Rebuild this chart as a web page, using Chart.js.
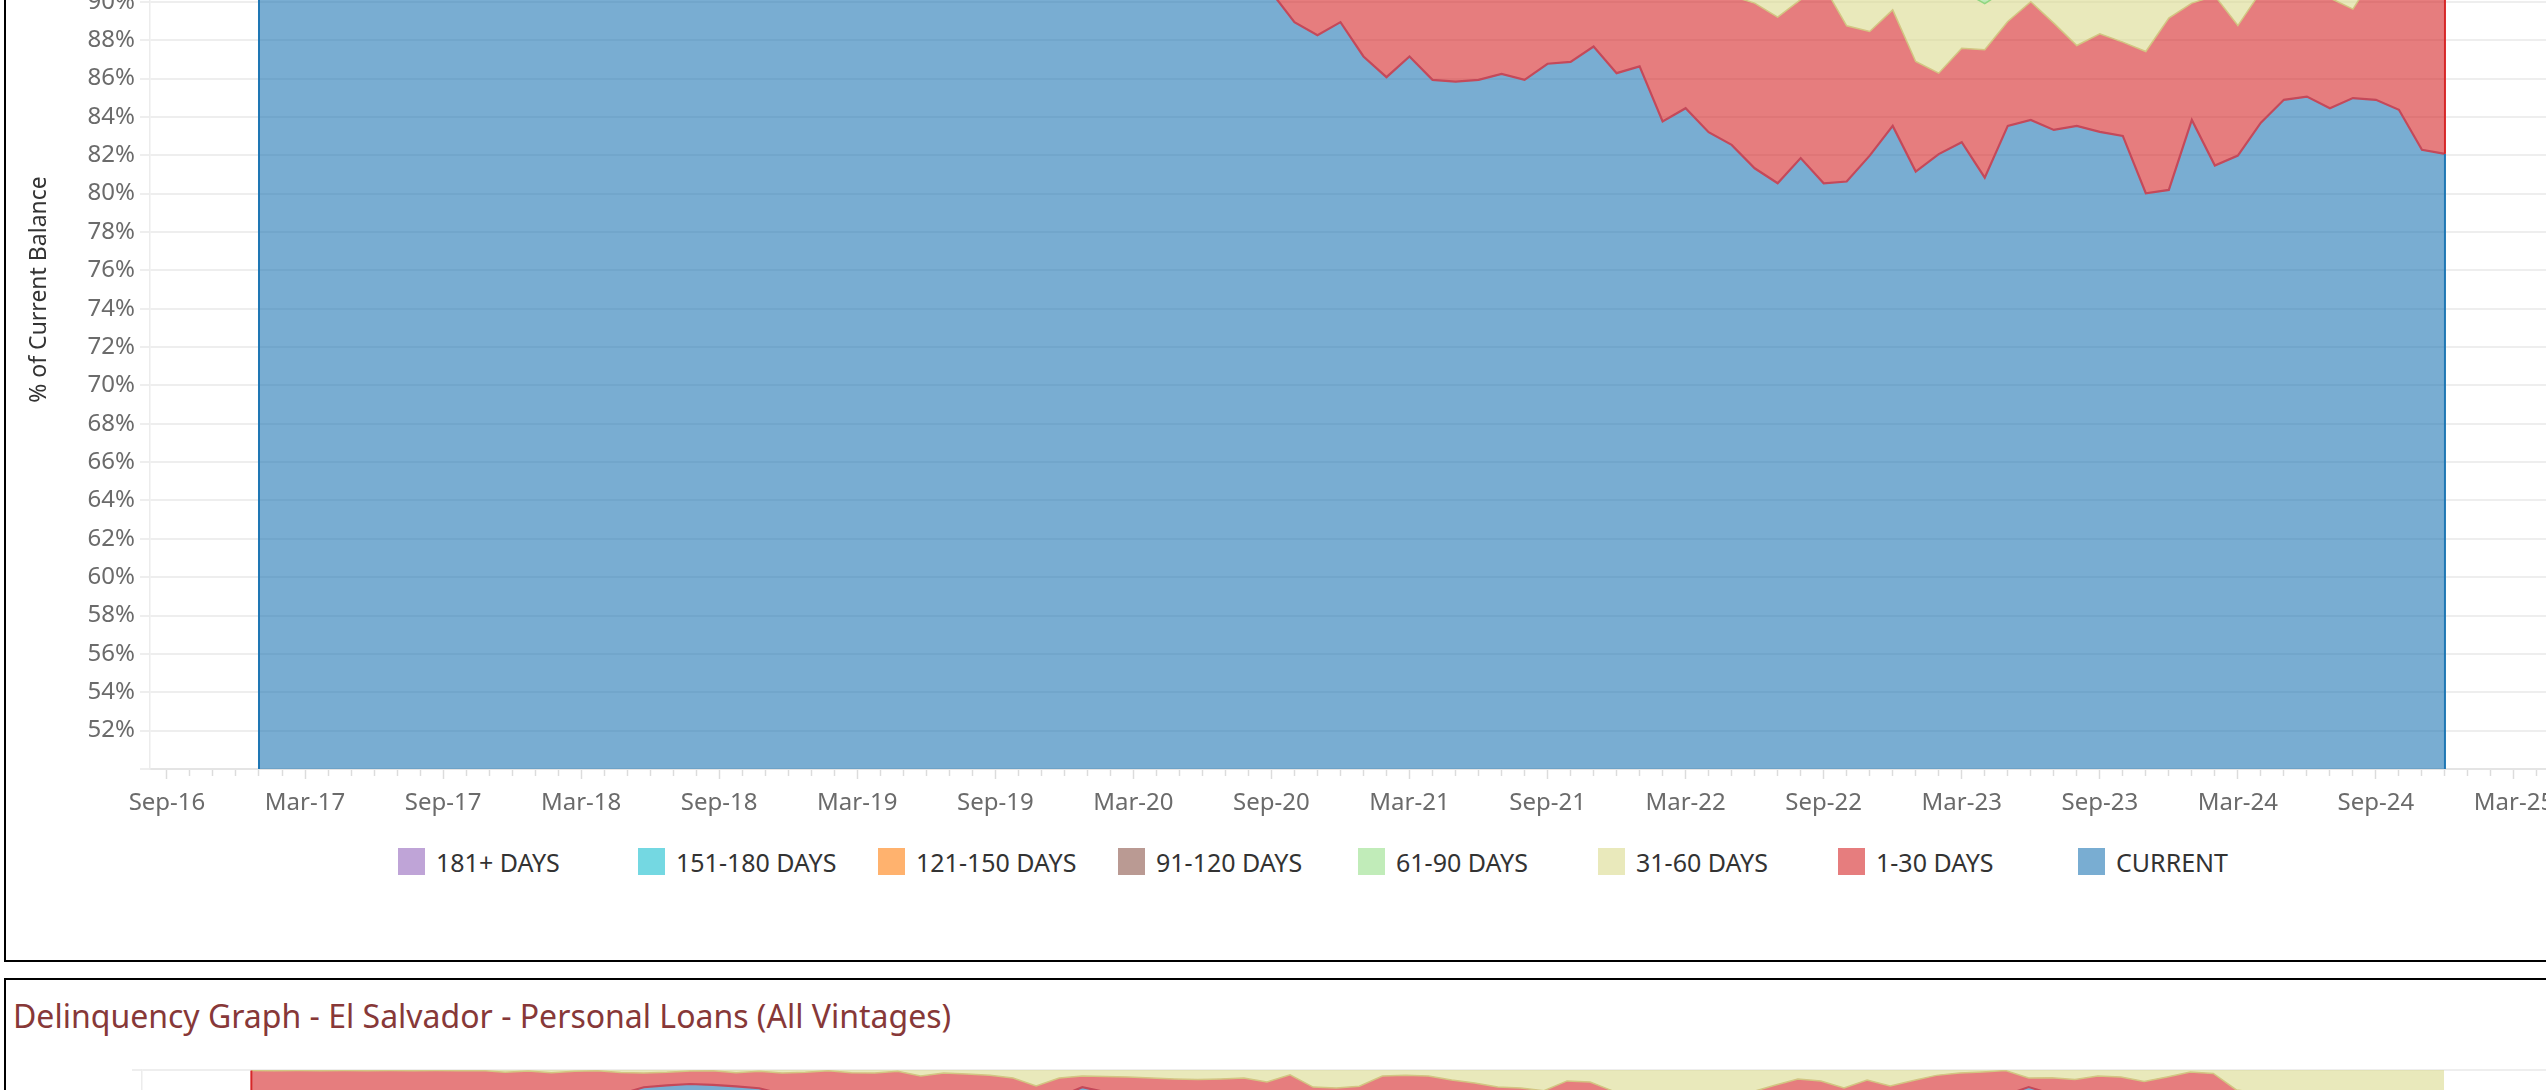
<!DOCTYPE html>
<html>
<head>
<meta charset="utf-8">
<title>Delinquency Graph</title>
<script src="https://cdn.jsdelivr.net/npm/chart.js@4.4.1/dist/chart.umd.min.js"></script>
<style>
    html, body {
        margin: 0;
        padding: 0;
        width: 2546px;
        height: 1090px;
        overflow: hidden;
        background: #fff;
        font-family: 'Noto Sans', sans-serif;
    }
    .panel {
        position: absolute;
        box-sizing: border-box;
        border: 2px solid #000;
    }
    #panelTop { left: 4px; top: -300px; width: 3000px; height: 1262px; }
    #panelBottom { left: 4px; top: 978px; width: 3000px; height: 400px; }
    canvas { position: absolute; left: 0; }
    #chartTop { top: -210px; }
    #chartBottom { top: 1050px; }
    #legend {
        position: absolute;
        left: 398px;
        top: 848px;
        display: flex;
    }
    .legend-item { width: 240px; height: 27px; display: flex; align-items: center; }
    .legend-swatch { width: 27px; height: 27px; margin-right: 11px; flex: none; }
    .legend-text { font-size: 25px; color: #333; white-space: nowrap; }
    #title2 {
        position: absolute;
        left: 13px;
        top: 1000px;
        font-size: 32px;
        line-height: 32px;
        color: #873838;
        white-space: nowrap;
    }
</style>
</head>
<body>
<div class="panel" id="panelTop"></div>
<div class="panel" id="panelBottom"></div>
<canvas id="chartTop" width="2693" height="1040"></canvas>
<div id="legend"></div>
<div id="title2">Delinquency Graph - El Salvador - Personal Loans (All Vintages)</div>
<canvas id="chartBottom" width="2693" height="1040"></canvas>

<script>
// months Jan-17 .. Dec-24 (one point per month)
const months = [];
for (let y = 2017; y <= 2024; y++) {
    for (let m = 1; m <= 12; m++) months.push(y + '-' + String(m).padStart(2, '0'));
}

const tickLabels = ['Sep-16', 'Mar-17', 'Sep-17', 'Mar-18', 'Sep-18', 'Mar-19', 'Sep-19', 'Mar-20',
    'Sep-20', 'Mar-21', 'Sep-21', 'Mar-22', 'Sep-22', 'Mar-23', 'Sep-23', 'Mar-24', 'Sep-24', 'Mar-25'];

const yTicksPct = { min: 50, max: 100, step: 2 };

const seriesNames = ['CURRENT', '1-30 DAYS', '31-60 DAYS', '61-90 DAYS', '91-120 DAYS',
    '121-150 DAYS', '151-180 DAYS', '181+ DAYS'];

// top chart: share of balance by bucket (%)
const current = [
    95.8, 95.4, 95.1, 95.6, 95.2, 94.9, 95.3, 94.8, 94.6, 95.0, 94.7, 95.1,
    94.6, 94.3, 94.8, 94.5, 94.1, 94.4, 94.0, 93.8, 94.2, 93.9, 94.3, 94.6,
    94.1, 93.7, 94.0, 93.6, 93.9, 93.4, 93.8, 93.5, 93.2, 93.6, 93.9, 94.2,
    93.7, 93.3, 93.9, 94.5, 95.1, 94.2, 92.8, 91.6, 90.5, 88.94, 88.26, 88.94,
    87.15, 86.07, 87.15, 85.93, 85.84, 85.93, 86.24, 85.93, 86.77, 86.87, 87.67, 86.28,
    86.63, 83.76, 84.45, 83.20, 82.54, 81.32, 80.54, 81.85, 80.54, 80.63, 81.98, 83.53,
    81.15, 82.06, 82.68, 80.83, 83.53, 83.84, 83.32, 83.53, 83.22, 83.01, 80.02, 80.19,
    83.84, 81.46, 81.98, 83.70, 84.89, 85.06, 84.45, 84.98, 84.89, 84.37, 82.28, 82.07
];
const days1to30 = [
    2.1, 2.4, 2.6, 2.2, 2.5, 2.8, 2.4, 2.9, 3.0, 2.7, 2.9, 2.6,
    2.9, 3.1, 2.7, 3.0, 3.3, 3.0, 3.4, 3.5, 3.1, 3.4, 3.0, 2.8,
    3.2, 3.5, 3.3, 3.6, 3.3, 3.7, 3.4, 3.6, 3.9, 3.5, 3.3, 3.0,
    3.4, 3.7, 3.2, 2.9, 2.6, 3.3, 4.4, 5.2, 2.3, 3.46, 3.84, 3.36,
    4.65, 5.43, 4.55, 5.37, 5.26, 5.47, 4.96, 4.97, 4.53, 4.13, 3.73, 4.52,
    4.47, 6.84, 6.45, 7.30, 7.76, 8.61, 8.66, 8.26, 10.29, 8.12, 6.47, 6.05,
    5.74, 4.22, 4.90, 6.67, 5.44, 6.16, 5.57, 4.19, 5.11, 4.89, 7.39, 8.96,
    6.09, 8.85, 6.78, 6.83, 6.31, 5.84, 5.75, 4.64, 6.61, 7.43, 9.12, 9.03
];
const days31to60 = [
    0.8, 0.9, 1.0, 0.9, 1.0, 1.1, 1.0, 1.2, 1.1, 1.0, 1.1, 1.0,
    1.1, 1.2, 1.0, 1.1, 1.2, 1.1, 1.3, 1.2, 1.1, 1.2, 1.1, 1.0,
    1.1, 1.2, 1.1, 1.3, 1.2, 1.3, 1.2, 1.3, 1.4, 1.2, 1.1, 1.0,
    1.2, 1.3, 1.1, 1.0, 0.9, 1.1, 1.3, 1.5, 1.6, 1.8, 1.7, 1.9,
    2.0, 1.8, 1.9, 2.1, 2.0, 1.8, 2.0, 2.2, 1.9, 2.1, 1.8, 2.2,
    2.0, 2.3, 2.1, 2.4, 2.5, 2.6, 2.8, 2.4, 2.2, 2.9, 3.1, 2.6,
    4.0, 4.3, 3.0, 2.4, 1.7, 1.5, 2.0, 2.9, 2.5, 2.8, 3.1, 2.0,
    1.7, 1.6, 2.3, 1.6, 1.4, 1.5, 1.7, 1.9, 1.4, 1.3, 1.5, 1.6
];
const days61to90 = [
    0.42, 0.40, 0.41, 0.39, 0.43, 0.38, 0.41, 0.36, 0.42, 0.40, 0.43, 0.41,
    0.44, 0.45, 0.47, 0.44, 0.45, 0.48, 0.42, 0.47, 0.50, 0.48, 0.51, 0.50,
    0.50, 0.51, 0.49, 0.47, 0.50, 0.51, 0.50, 0.49, 0.47, 0.53, 0.54, 0.56,
    0.53, 0.54, 0.57, 0.51, 0.44, 0.45, 0.48, 0.54, 1.4, 1.5, 1.6, 1.5,
    1.6, 1.7, 1.6, 1.7, 1.8, 1.7, 1.7, 1.8, 1.7, 1.8, 1.7, 1.8,
    1.7, 1.8, 1.8, 1.8, 1.9, 1.9, 2.0, 1.9, 1.8, 2.1, 2.1, 2.0,
    2.3, 2.4, 2.4, 2.6, 2.4, 2.2, 2.3, 2.4, 2.3, 2.4, 2.4, 2.5,
    2.2, 2.1, 2.0, 2.2, 2.0, 1.9, 1.9, 2.0, 2.1, 1.8, 1.7, 1.8
];
const days91to120 = [
    0.30, 0.29, 0.30, 0.31, 0.29, 0.28, 0.30, 0.25, 0.30, 0.31, 0.29, 0.30,
    0.32, 0.33, 0.34, 0.32, 0.33, 0.35, 0.30, 0.34, 0.37, 0.35, 0.36, 0.37,
    0.37, 0.36, 0.37, 0.35, 0.36, 0.37, 0.38, 0.36, 0.35, 0.39, 0.40, 0.41,
    0.39, 0.40, 0.42, 0.37, 0.33, 0.32, 0.35, 0.39, 1.0, 1.0, 1.1, 1.0,
    1.1, 1.2, 1.1, 1.2, 1.2, 1.2, 1.2, 1.2, 1.2, 1.2, 1.2, 1.3,
    1.2, 1.3, 1.3, 1.3, 1.3, 1.4, 1.5, 1.4, 1.3, 1.5, 1.5, 1.4,
    1.7, 1.7, 1.7, 1.8, 1.7, 1.5, 1.7, 1.7, 1.7, 1.7, 1.7, 1.6,
    1.5, 1.4, 1.6, 1.4, 1.3, 1.4, 1.5, 1.5, 1.3, 1.2, 1.3, 1.3
];
const days121to150 = [
    0.21, 0.22, 0.20, 0.21, 0.22, 0.19, 0.21, 0.18, 0.21, 0.20, 0.22, 0.21,
    0.22, 0.23, 0.24, 0.22, 0.23, 0.24, 0.21, 0.24, 0.26, 0.24, 0.26, 0.25,
    0.26, 0.25, 0.26, 0.24, 0.25, 0.26, 0.26, 0.25, 0.24, 0.27, 0.28, 0.29,
    0.27, 0.28, 0.29, 0.26, 0.23, 0.22, 0.24, 0.27, 0.8, 0.9, 0.9, 0.9,
    0.9, 1.0, 1.0, 1.0, 1.0, 1.0, 1.0, 1.0, 1.0, 1.0, 1.0, 1.1,
    1.0, 1.1, 1.1, 1.1, 1.1, 1.1, 1.2, 1.1, 1.0, 1.2, 1.3, 1.2,
    1.4, 1.4, 1.4, 1.5, 1.4, 1.3, 1.4, 1.4, 1.4, 1.4, 1.4, 1.3,
    1.3, 1.2, 1.3, 1.2, 1.1, 1.1, 1.2, 1.3, 1.1, 1.0, 1.1, 1.1
];
const days151to180 = [
    0.17, 0.16, 0.18, 0.17, 0.16, 0.16, 0.17, 0.14, 0.17, 0.16, 0.17, 0.17,
    0.18, 0.18, 0.20, 0.18, 0.18, 0.20, 0.17, 0.19, 0.21, 0.20, 0.21, 0.21,
    0.21, 0.20, 0.21, 0.19, 0.21, 0.20, 0.21, 0.21, 0.19, 0.22, 0.22, 0.23,
    0.22, 0.22, 0.23, 0.21, 0.18, 0.18, 0.20, 0.22, 0.8, 0.8, 0.9, 0.8,
    0.9, 0.9, 0.9, 0.9, 1.0, 1.0, 1.0, 1.0, 1.0, 1.0, 1.0, 1.0,
    1.0, 1.0, 1.0, 1.0, 1.0, 1.1, 1.1, 1.1, 1.0, 1.1, 1.2, 1.1,
    1.3, 1.3, 1.3, 1.4, 1.3, 1.2, 1.3, 1.3, 1.3, 1.4, 1.3, 1.2,
    1.2, 1.1, 1.2, 1.1, 1.0, 1.1, 1.1, 1.2, 1.0, 1.0, 1.0, 1.0
];
const days181plus = [
    0.20, 0.23, 0.21, 0.22, 0.20, 0.19, 0.21, 0.17, 0.20, 0.23, 0.19, 0.21,
    0.24, 0.21, 0.25, 0.24, 0.21, 0.23, 0.20, 0.26, 0.26, 0.23, 0.26, 0.27,
    0.26, 0.28, 0.27, 0.25, 0.28, 0.26, 0.25, 0.29, 0.25, 0.29, 0.26, 0.31,
    0.29, 0.26, 0.29, 0.25, 0.22, 0.23, 0.23, 0.28, 1.6, 1.6, 1.7, 1.6,
    1.7, 1.9, 1.8, 1.8, 1.9, 1.9, 1.9, 1.9, 1.9, 1.9, 1.9, 1.8,
    2.0, 1.9, 1.8, 1.9, 1.9, 1.97, 2.2, 1.99, 1.87, 2.45, 2.35, 2.12,
    2.41, 2.62, 2.62, 2.8, 2.53, 2.3, 2.41, 2.58, 2.47, 2.4, 2.69, 2.25,
    2.17, 2.29, 2.84, 1.97, 2.0, 2.1, 2.4, 2.48, 1.6, 1.9, 2.0, 2.1
];

// bottom chart (El Salvador): stacked boundary levels (%)
const esCurrentLevel = [
    98.4, 98.2, 98.5, 98.3, 98.1, 98.4, 98.6, 98.3, 98.2, 98.5, 98.7, 98.4,
    98.3, 98.6, 98.5, 98.6, 98.75, 99.1, 99.2, 99.27, 99.22, 99.15, 99.05, 98.75,
    98.5, 98.3, 98.6, 98.4, 98.2, 98.5, 98.6, 98.3, 98.4, 98.1, 97.9, 98.6,
    99.1, 98.85, 98.5, 98.3, 98.4, 98.2, 98.0, 98.3, 98.1, 98.4, 97.9, 97.8,
    98.0, 98.5, 98.4, 98.6, 98.3, 98.1, 97.9, 97.8, 97.7, 98.2, 98.1, 97.6,
    97.5, 97.4, 97.6, 97.3, 97.5, 97.6, 98.0, 98.5, 98.3, 97.9, 98.4, 98.1,
    98.3, 98.6, 98.7, 98.8, 98.7, 99.11, 98.75, 98.6, 98.7, 98.5, 98.3, 98.4,
    98.6, 98.5, 98.2, 98.0, 97.9, 98.0, 97.8, 97.9, 97.8, 97.9, 97.7, 97.8
];
const esUpTo30Level = [
    99.97, 99.96, 99.97, 99.96, 99.97, 99.96, 99.97, 99.96, 99.97, 99.96, 99.97, 99.88,
    99.95, 99.86, 99.94, 99.96, 99.87, 99.84, 99.88, 99.95, 99.96, 99.86, 99.94, 99.85,
    99.88, 99.96, 99.86, 99.84, 99.93, 99.69, 99.84, 99.79, 99.72, 99.58, 99.17, 99.58,
    99.69, 99.66, 99.64, 99.58, 99.53, 99.50, 99.53, 99.58, 99.37, 99.75, 99.11, 99.06,
    99.15, 99.69, 99.72, 99.69, 99.48, 99.32, 99.11, 99.06, 98.92, 99.43, 99.37, 98.90,
    98.80, 98.75, 98.82, 98.70, 98.78, 98.85, 99.20, 99.53, 99.43, 99.06, 99.48, 99.17,
    99.45, 99.72, 99.84, 99.90, 99.97, 99.58, 99.60, 99.50, 99.69, 99.64, 99.40, 99.64,
    99.90, 99.82, 98.96, 98.80, 98.70, 98.75, 98.60, 98.72, 98.65, 98.70, 98.60, 98.68
];

const topSeries = [current, days1to30, days31to60, days61to90, days91to120,
    days121to150, days151to180, days181plus];

// Tableau 10 / 20 colours, drawn at 60% opacity
const baseColors = ['#1F77B4', '#D62728', '#DBDB8D', '#98DF8A', '#8C564B', '#FF7F0E', '#17BECF', '#9467BD'];
const edgeColors = ['#C4495A', '#D2C682', '#8FD67F', '#B89A92', '#FFB26E', '#74D8E2', '#BFA4D7', '#BFA4D7'];

function fade(hex, a) {
    const n = parseInt(hex.slice(1), 16);
    return `rgba(${n >> 16},${(n >> 8) & 255},${n & 255},${a})`;
}

const monthNames = ['Jan', 'Feb', 'Mar', 'Apr', 'May', 'Jun', 'Jul', 'Aug', 'Sep', 'Oct', 'Nov', 'Dec'];
function monthIndex(label) {
    const [mon, yy] = label.split('-');
    return (2000 + Number(yy) - 2017) * 12 + monthNames.indexOf(mon);
}
const labelAt = {};
tickLabels.forEach(l => { labelAt[monthIndex(l)] = l; });

const xRange = { min: -4.737, max: 105.78 };

Chart.defaults.font.family = "'Noto Sans', sans-serif";
Chart.defaults.animation = false;

function points(values) {
    return values.map((v, i) => ({ x: i, y: v }));
}

// Tableau draws the left/right ends of each area with a solid edge
const bordesExtremos = {
    id: 'bordesExtremos',
    afterDatasetsDraw(chart) {
        const { ctx, chartArea } = chart;
        ctx.save();
        ctx.beginPath();
        ctx.rect(chartArea.left, chartArea.top, chartArea.width, chartArea.height);
        ctx.clip();
        ctx.lineWidth = 2;
        chart.data.datasets.forEach((ds, i) => {
            if (!ds.edgeColor) return;
            const pts = chart.getDatasetMeta(i).data;
            const prev = i > 0 && chart.data.datasets[i - 1].edgeColor ? chart.getDatasetMeta(i - 1).data : null;
            [0, pts.length - 1].forEach(k => {
                const yLow = prev ? prev[k].y : chartArea.bottom;
                ctx.strokeStyle = ds.edgeColor;
                ctx.beginPath();
                ctx.moveTo(pts[k].x, yLow);
                ctx.lineTo(pts[k].x, pts[k].y);
                ctx.stroke();
            });
        });
        ctx.restore();
    }
};

function crearEjeX() {
    return {
        type: 'linear',
        min: xRange.min,
        max: xRange.max,
        afterBuildTicks: axis => {
            const t = [];
            for (let m = Math.ceil(xRange.min); m <= Math.floor(xRange.max); m++) t.push({ value: m });
            axis.ticks = t;
        },
        afterFit: axis => { axis.height = 61; },
        ticks: {
            autoSkip: false,
            maxRotation: 0,
            padding: 10,
            color: '#6b6b6b',
            font: { size: 24 },
            callback: v => labelAt[v] || ''
        },
        grid: {
            drawOnChartArea: false,
            tickLength: 10,
            tickWidth: 1.5,
            tickColor: '#dcdcdc',
            tickBorderDash: ctx => (ctx.tick && labelAt[ctx.tick.value]) ? [] : [6, 40]
        },
        border: { display: true, color: '#e4e4e4', width: 2 }
    };
}

function crearEjeY(leftWidth, stacked, withLabels) {
    return {
        stacked,
        min: yTicksPct.min,
        max: yTicksPct.max,
        afterFit: axis => { axis.width = leftWidth; },
        ticks: {
            stepSize: yTicksPct.step,
            padding: 5,
            autoSkip: false,
            color: '#6b6b6b',
            font: { size: 24 },
            callback: v => (!withLabels || v === yTicksPct.min || v === yTicksPct.max ? '' : v + '%')
        },
        grid: { color: '#eeeeee', lineWidth: 2, tickLength: 10 },
        border: { display: true, color: '#ececec', width: 1.5 },
        title: {
            display: withLabels,
            text: '% of Current Balance',
            color: '#333',
            font: { size: 23 },
            padding: { top: 26, bottom: 0 }
        }
    };
}

// ---- top chart ----
const topDatasets = topSeries.map((vals, i) => ({
    label: seriesNames[i],
    data: points(vals),
    backgroundColor: fade(baseColors[i], 0.6),
    borderColor: edgeColors[i],
    edgeColor: baseColors[i],
    borderWidth: i === 0 ? 2.2 : 1.5,
    pointRadius: 0,
    tension: 0,
    fill: i === 0 ? 'start' : '-1'
}));

const chartTop = new Chart(document.getElementById('chartTop').getContext('2d'), {
    type: 'line',
    data: { datasets: topDatasets },
    options: {
        responsive: false,
        devicePixelRatio: 1,
        layout: { padding: { top: 20, left: 0, right: 0, bottom: 0 } },
        plugins: { legend: { display: false }, tooltip: { enabled: false } },
        scales: { x: crearEjeX(), y: crearEjeY(150, true, true) }
    },
    plugins: [bordesExtremos]
});

// HTML legend, same order as the reference (181+ first)
const legend = document.getElementById('legend');
for (let i = seriesNames.length - 1; i >= 0; i--) {
    const item = document.createElement('div');
    item.className = 'legend-item';
    const sw = document.createElement('div');
    sw.className = 'legend-swatch';
    sw.style.background = fade(baseColors[i], 0.6);
    const tx = document.createElement('span');
    tx.className = 'legend-text';
    tx.textContent = seriesNames[i];
    item.appendChild(sw);
    item.appendChild(tx);
    legend.appendChild(item);
}

// ---- bottom chart (only its top strip is on screen) ----
const chartBottom = new Chart(document.getElementById('chartBottom').getContext('2d'), {
    type: 'line',
    data: {
        datasets: [
            {
                label: 'CURRENT',
                data: points(esCurrentLevel),
                backgroundColor: fade(baseColors[0], 0.6),
                borderColor: edgeColors[0],
                edgeColor: baseColors[0],
                borderWidth: 2.2,
                pointRadius: 0,
                fill: 'start'
            },
            {
                label: '1-30 DAYS',
                data: points(esUpTo30Level),
                backgroundColor: fade(baseColors[1], 0.6),
                borderColor: edgeColors[1],
                edgeColor: baseColors[1],
                borderWidth: 1.5,
                pointRadius: 0,
                fill: '-1'
            },
            {
                label: '31-60 DAYS',
                data: points(esUpTo30Level),
                backgroundColor: fade(baseColors[2], 0.6),
                borderColor: 'rgba(0,0,0,0)',
                borderWidth: 0,
                pointRadius: 0,
                fill: 'end'
            }
        ]
    },
    options: {
        responsive: false,
        devicePixelRatio: 1,
        layout: { padding: { top: 20, left: 0, right: 0, bottom: 0 } },
        plugins: { legend: { display: false }, tooltip: { enabled: false } },
        scales: { x: crearEjeX(), y: crearEjeY(142, false, false) }
    },
    plugins: [bordesExtremos]
});
</script>
</body>
</html>
